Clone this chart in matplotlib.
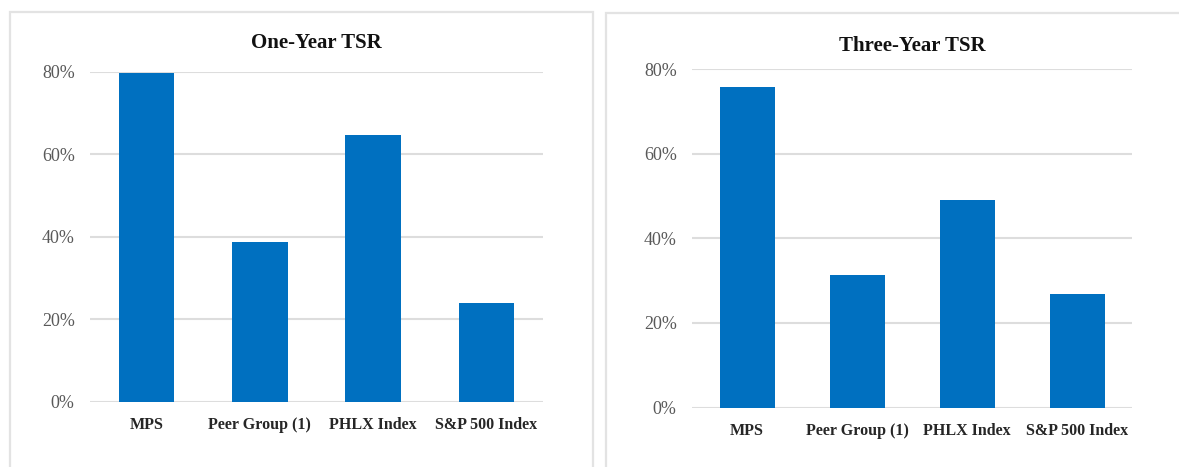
import matplotlib.pyplot as plt
from matplotlib.patches import Rectangle
from matplotlib.ticker import FuncFormatter

categories = ["MPS", "Peer Group (1)", "PHLX Index", "S&P 500 Index"]
one_year = [79.6, 38.8, 64.6, 23.9]
three_year = [75.8, 31.4, 49.1, 26.9]
titles = ["One-Year TSR", "Three-Year TSR"]
yticks = [0, 20, 40, 60, 80]

bar_color = "#0070c0"
grid_color = "#dddddd"
serif = ["Liberation Serif", "DejaVu Serif"]

fig = plt.figure(figsize=(11.79, 4.67), dpi=100)
W, H = 1179, 467

# ===== panel frames =====
for x0, y0, x1 in [(10, 12, 593), (606, 13, 1192)]:
    fig.patches.append(Rectangle((x0 / W, -0.05), (x1 - x0) / W, 1.05 - y0 / H,
                                 transform=fig.transFigure, fill=False,
                                 edgecolor="#e3e3e3", linewidth=1.6))

# axes boxes in pixels: left, right, y(0%), y(80%)
boxes = [(90, 543, 402, 71.7), (692, 1132, 407.5, 69.3)]
widths = [0.49, 0.5]
title_pads = [17, 13]

for (xl, xr, yb, yt), vals, title, bw, tp in zip(boxes, [one_year, three_year],
                                                 titles, widths, title_pads):
    ax = fig.add_axes([xl / W, 1 - yb / H, (xr - xl) / W, (yb - yt) / H])
    ax.bar(range(len(categories)), vals, width=bw, color=bar_color, zorder=3)
    ax.set_xlim(-0.5, len(categories) - 0.5)
    ax.set_ylim(0, 80)
    ax.set_yticks(yticks)
    ax.yaxis.set_major_formatter(FuncFormatter(lambda v, p: f"{v:.0f}%"))
    ax.set_xticks(range(len(categories)))
    ax.set_xticklabels(categories, fontfamily=serif, fontweight="bold",
                       fontsize=11.5, color="#262626")
    for lab in ax.get_yticklabels():
        lab.set_fontfamily(serif)
        lab.set_fontsize(13)
        lab.set_color("#595959")
    ax.tick_params(axis="both", length=0)
    ax.tick_params(axis="y", pad=11)
    ax.tick_params(axis="x", pad=11)
    ax.grid(axis="y", color=grid_color, linewidth=1.5, zorder=0)
    ax.set_axisbelow(True)
    for s in ax.spines.values():
        s.set_visible(False)
    ax.set_title(title, fontfamily=serif, fontweight="bold", fontsize=15,
                 color="#111111", pad=tp)

fig.savefig("out.png", dpi=100)
